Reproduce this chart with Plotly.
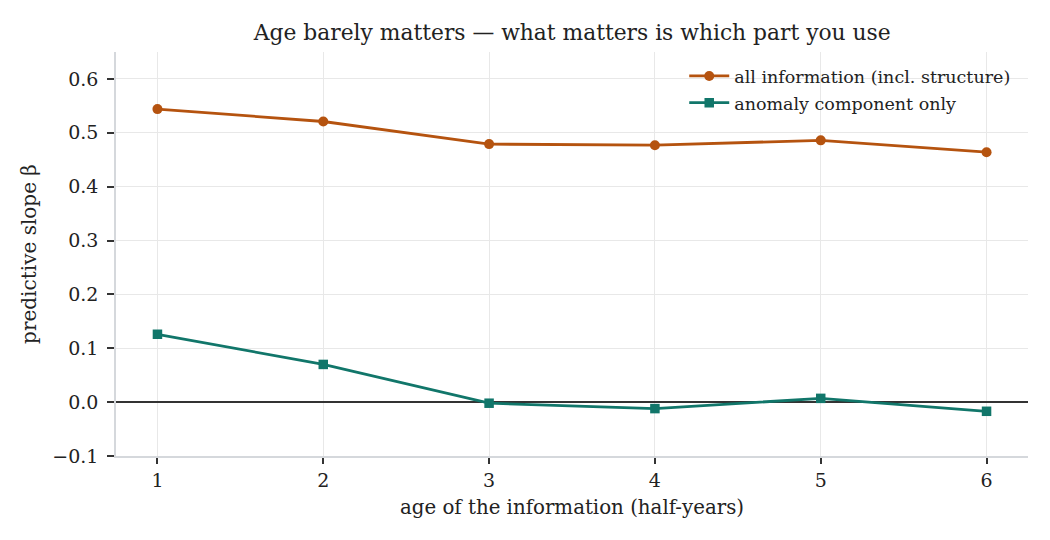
import plotly.graph_objects as go

ages = [1, 2, 3, 4, 5, 6]
all_info = [0.544, 0.521, 0.479, 0.477, 0.486, 0.464]
anomaly_only = [0.126, 0.070, -0.002, -0.012, 0.007, -0.017]
y_ticks = [-0.1, 0.0, 0.1, 0.2, 0.3, 0.4, 0.5, 0.6]

font = "DejaVu Serif"
fig = go.Figure()
fig.add_trace(go.Scatter(x=ages, y=all_info, mode="lines+markers",
                         name="all information (incl. structure)", legendgroup="a",
                         line=dict(color="#b5530f", width=2.8),
                         marker=dict(symbol="circle", size=10, color="#b5530f")))
fig.add_trace(go.Scatter(x=ages, y=anomaly_only, mode="lines+markers",
                         name="anomaly component only", legendgroup="b",
                         line=dict(color="#11766a", width=2.8),
                         marker=dict(symbol="square", size=9.5, color="#11766a")))

fig.update_layout(
    width=1050, height=540,
    margin=dict(l=116, r=22, t=52, b=84),
    paper_bgcolor="white", plot_bgcolor="white",
    font=dict(family=font, size=19, color="#222"),
    title=dict(text="Age barely matters — what matters is which part you use",
               x=0.545, xanchor="center", y=0.94, yanchor="middle",
               font=dict(family=font, size=21.8, color="#222")),
    legend=dict(x=0.986, xanchor="right", y=0.985, yanchor="top",
                bgcolor="rgba(255,255,255,0)", font=dict(family=font, size=17.5),
                itemwidth=40, tracegroupgap=1, traceorder="grouped"),
    showlegend=True,
)
fig.update_xaxes(range=[0.75, 6.25], tickvals=ages, showgrid=True, gridcolor="#e8e8e8",
                 showline=True, linecolor="#d5d8dc", linewidth=1.5,
                 ticks="outside", ticklen=6, tickcolor="#333", tickwidth=1.5,
                 zeroline=False,
                 title=dict(text="age of the information (half-years)", font=dict(size=19.8), standoff=11))
fig.update_yaxes(range=[-0.1, 0.65], tickvals=y_ticks, tickformat=".1f",
                 showgrid=True, gridcolor="#e8e8e8",
                 showline=True, linecolor="#d5d8dc", linewidth=1.5,
                 ticks="outside", ticklen=7, tickcolor="#333", tickwidth=1.5,
                 ticklabelstandoff=5,
                 zeroline=True, zerolinecolor="#333", zerolinewidth=1.5,
                 title=dict(text="predictive slope β", font=dict(size=20), standoff=10))

fig.write_html("out.html")
